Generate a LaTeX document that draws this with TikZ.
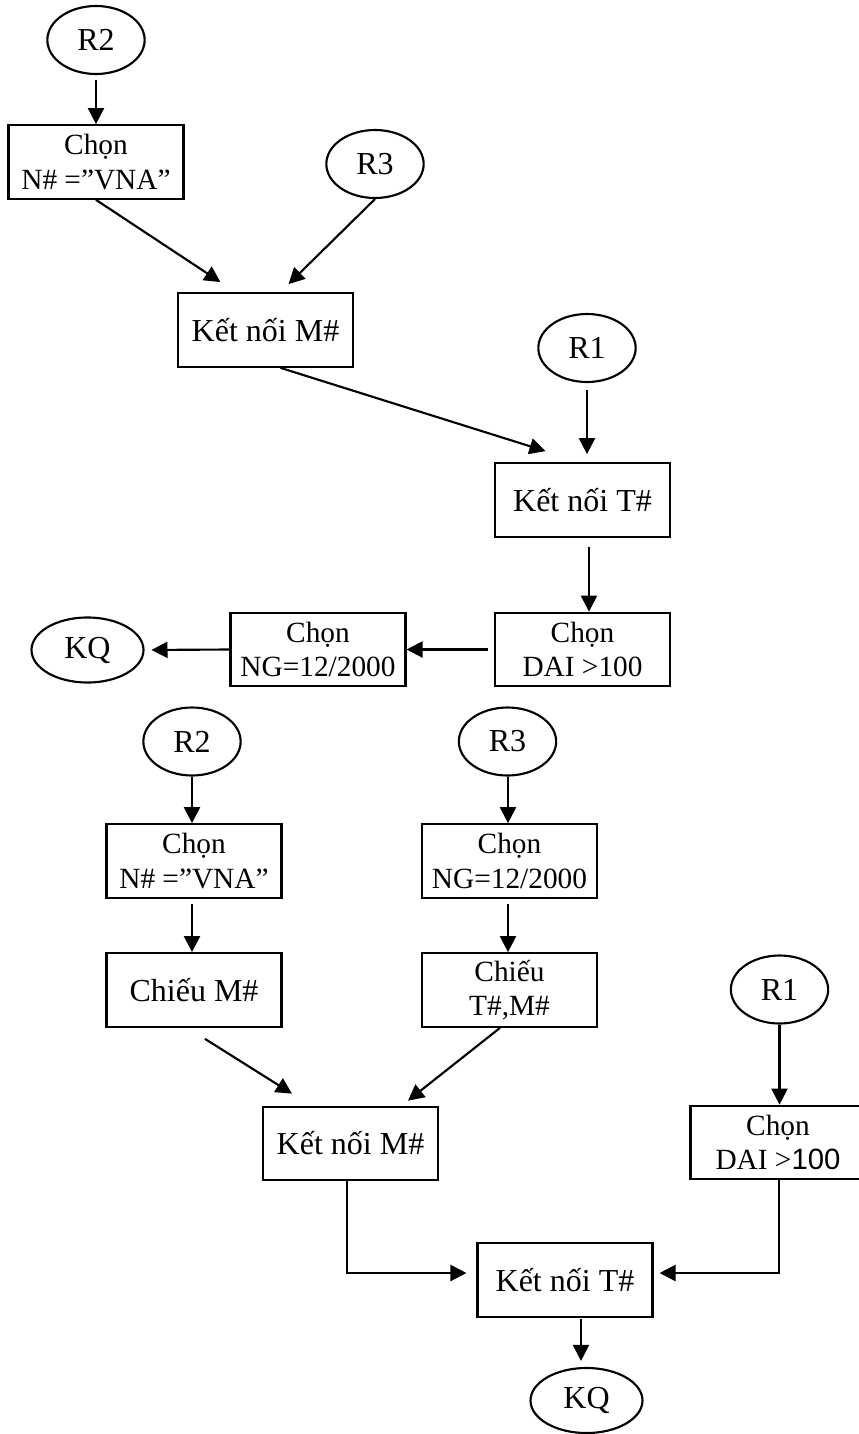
\documentclass[tikz,border=0pt]{standalone}
\usepackage{fontspec}
\setmainfont{Liberation Serif}
\newfontfamily\arialfont{Liberation Sans}
\usepackage{tikz}
\usetikzlibrary{calc,arrows.meta,shapes.geometric}

\begin{document}
\begin{tikzpicture}[
    x=0.375pt, y=-0.375pt,
    rel/.style={draw, ellipse, line width=0.8pt, minimum width=36.5pt, minimum height=25.5pt, inner sep=0pt, font=\fontsize{12}{14}\selectfont},
    kq/.style={rel, minimum width=42pt, minimum height=24.4pt},
    op/.style={draw, line width=0.8pt, minimum width=65.6pt, minimum height=27.6pt, inner sep=0pt, align=center, font=\fontsize{11}{13}\selectfont},
    op1/.style={op, font=\fontsize{12}{14}\selectfont},
    arr/.style={-{Triangle[length=6pt,width=6pt]}, line width=0.8pt}
  ]
    \useasboundingbox (0,0) rectangle (858,1434);
    % first plan
    \node[rel] (r2a) at (96,40) {R2};
    \node[op] (chon1) at (96,162) {Chọn\\N\# =”VNA”};
    \node[rel] (r3a) at (375,164) {R3};
    \node[op1] (kn1) at (265.5,330) {Kết nối M\#};
    \node[rel] (r1a) at (587,348) {R1};
    \node[op1] (kt1) at (582.5,500) {Kết nối T\#};
    \node[op] (dai1) at (582.5,649.5) {Chọn\\DAI >100};
    \node[op] (ng1) at (318,649.5) {Chọn\\NG=12/2000};
    \node[kq] (kq1) at (87.5,650) {KQ};
    \draw[arr, shorten <=1.9pt] (r2a.south) -- (r2a.south |- chon1.north);
    \draw[arr] (chon1.south) -- ($(kn1.north)+(-45,-10)$);
    \draw[arr] (r3a.south) -- ($(kn1.north)+(23,-8)$);
    \draw[arr] ($(kn1.south)+(15,0)$) -- ($(kt1.north)+(-37,-11)$);
    \draw[arr, shorten <=2.6pt, shorten >=3pt] (r1a.south) -- (r1a.south |- kt1.north);
    \draw[arr] ($(kt1.south)+(6.5,9)$) -- ($(dai1.north)+(6.5,0)$);
    \draw[arr] ($(dai1.west)+(-6,0)$) -- (ng1.east);
    \draw[arr, shorten >=2.6pt] (ng1.west) -- (kq1.east);
    % second plan
    \node[rel] (r2b) at (192,741.5) {R2};
    \node[op] (chon2) at (194,861) {Chọn\\N\# =”VNA”};
    \node[op1] (chieu1) at (194,990) {Chiếu M\#};
    \node[rel] (r3b) at (507.5,741.5) {R3};
    \node[op] (ng2) at (509.5,861) {Chọn\\NG=12/2000};
    \node[op] (chieu2) at (509.5,990) {Chiếu\\T\#,M\#};
    \node[rel] (r1b) at (779.5,989.5) {R1};
    \node[op] (dai2) at (778,1142.5) {Chọn\\DAI >{\arialfont 100}};
    \node[op1] (kn2) at (350.5,1143.5) {Kết nối M\#};
    \node[op1] (kt2) at (565,1280) {Kết nối T\#};
    \node[kq] (kq2) at (586.5,1400.5) {KQ};
    \draw[arr] (r2b.south) -- (r2b.south |- chon2.north);
    \draw[arr, shorten <=1.9pt] (r2b.south |- chon2.south) -- (r2b.south |- chieu1.north);
    \draw[arr] ($(r3b.south)+(0.5,0)$) -- ($(r3b.south |- ng2.north)+(0.5,0)$);
    \draw[arr, shorten <=1.9pt] ($(r3b.south |- ng2.south)+(0.5,0)$) -- ($(r3b.south |- chieu2.north)+(0.5,0)$);
    \draw[arr] ($(chieu1.south)+(11,11)$) -- ($(kn2.north)+(-58.5,-12)$);
    \draw[arr] ($(chieu2.south)+(-9.5,0)$) -- ($(kn2.north)+(57.5,-5)$);
    \draw[arr] (r1b.south) -- (r1b.south |- dai2.north);
    \draw[arr] ($(kn2.south)+(-3.5,0)$) |- ($(kt2.west)+(-10,-7)$);
    \draw[arr] ($(dai2.south)+(1,0)$) |- ($(kt2.east)+(6,-7)$);
    \draw[arr] ($(kt2.south)+(16,1)$) -- ($(kq2.north)+(-5.5,-6)$);
\end{tikzpicture}
\end{document}
